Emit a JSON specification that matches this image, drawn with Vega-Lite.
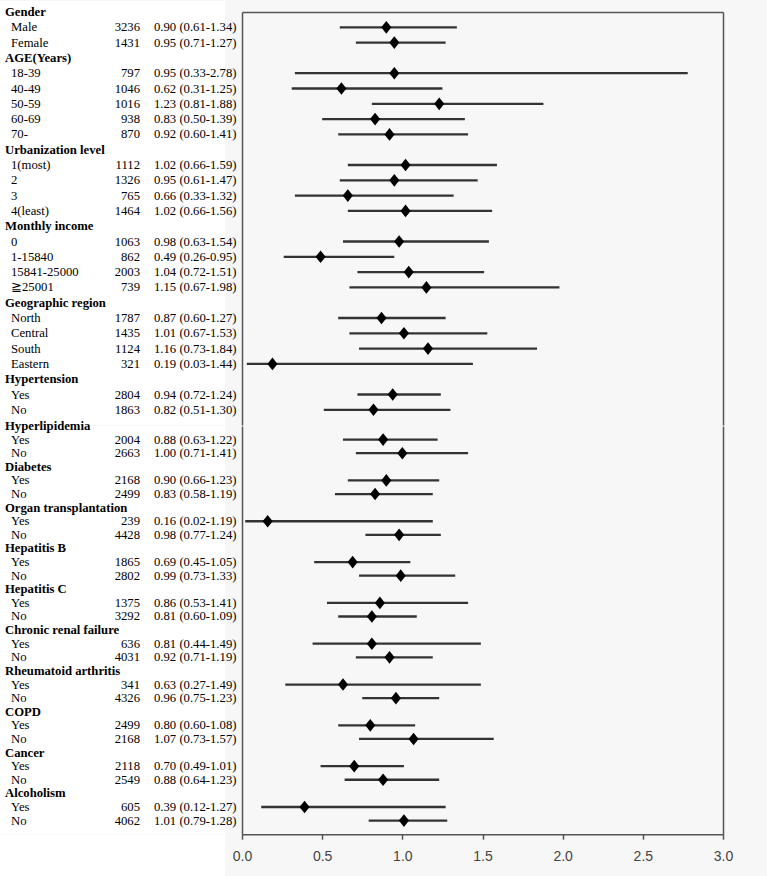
{
  "$schema": "https://vega.github.io/schema/vega-lite/v6.json",
  "background": "#f7f7f7",
  "padding": 0,
  "bounds": "flush",
  "align": "each",
  "columns": 2,
  "spacing": 0,
  "config": {"view": {"stroke": null}},
  "datasets": {
    "upper": [
      {"key": "Gender", "label": "Gender", "level": "header"},
      {"key": "Gender/Male", "label": "Male", "level": "item", "n": 3236, "ci": "0.90 (0.61-1.34)", "or": 0.90, "lo": 0.61, "hi": 1.34},
      {"key": "Gender/Female", "label": "Female", "level": "item", "n": 1431, "ci": "0.95 (0.71-1.27)", "or": 0.95, "lo": 0.71, "hi": 1.27},
      {"key": "AGE(Years)", "label": "AGE(Years)", "level": "header"},
      {"key": "Age/18-39", "label": "18-39", "level": "item", "n": 797, "ci": "0.95 (0.33-2.78)", "or": 0.95, "lo": 0.33, "hi": 2.78},
      {"key": "Age/40-49", "label": "40-49", "level": "item", "n": 1046, "ci": "0.62 (0.31-1.25)", "or": 0.62, "lo": 0.31, "hi": 1.25},
      {"key": "Age/50-59", "label": "50-59", "level": "item", "n": 1016, "ci": "1.23 (0.81-1.88)", "or": 1.23, "lo": 0.81, "hi": 1.88},
      {"key": "Age/60-69", "label": "60-69", "level": "item", "n": 938, "ci": "0.83 (0.50-1.39)", "or": 0.83, "lo": 0.50, "hi": 1.39},
      {"key": "Age/70-", "label": "70-", "level": "item", "n": 870, "ci": "0.92 (0.60-1.41)", "or": 0.92, "lo": 0.60, "hi": 1.41},
      {"key": "Urbanization level", "label": "Urbanization level", "level": "header"},
      {"key": "Urban/1", "label": "1(most)", "level": "item", "n": 1112, "ci": "1.02 (0.66-1.59)", "or": 1.02, "lo": 0.66, "hi": 1.59},
      {"key": "Urban/2", "label": "2", "level": "item", "n": 1326, "ci": "0.95 (0.61-1.47)", "or": 0.95, "lo": 0.61, "hi": 1.47},
      {"key": "Urban/3", "label": "3", "level": "item", "n": 765, "ci": "0.66 (0.33-1.32)", "or": 0.66, "lo": 0.33, "hi": 1.32},
      {"key": "Urban/4", "label": "4(least)", "level": "item", "n": 1464, "ci": "1.02 (0.66-1.56)", "or": 1.02, "lo": 0.66, "hi": 1.56},
      {"key": "Monthly income", "label": "Monthly income", "level": "header"},
      {"key": "Income/0", "label": "0", "level": "item", "n": 1063, "ci": "0.98 (0.63-1.54)", "or": 0.98, "lo": 0.63, "hi": 1.54},
      {"key": "Income/1-15840", "label": "1-15840", "level": "item", "n": 862, "ci": "0.49 (0.26-0.95)", "or": 0.49, "lo": 0.26, "hi": 0.95},
      {"key": "Income/15841-25000", "label": "15841-25000", "level": "item", "n": 2003, "ci": "1.04 (0.72-1.51)", "or": 1.04, "lo": 0.72, "hi": 1.51},
      {"key": "Income/25001", "label": "≧25001", "level": "item", "n": 739, "ci": "1.15 (0.67-1.98)", "or": 1.15, "lo": 0.67, "hi": 1.98},
      {"key": "Geographic region", "label": "Geographic region", "level": "header"},
      {"key": "Region/North", "label": "North", "level": "item", "n": 1787, "ci": "0.87 (0.60-1.27)", "or": 0.87, "lo": 0.60, "hi": 1.27},
      {"key": "Region/Central", "label": "Central", "level": "item", "n": 1435, "ci": "1.01 (0.67-1.53)", "or": 1.01, "lo": 0.67, "hi": 1.53},
      {"key": "Region/South", "label": "South", "level": "item", "n": 1124, "ci": "1.16 (0.73-1.84)", "or": 1.16, "lo": 0.73, "hi": 1.84},
      {"key": "Region/Eastern", "label": "Eastern", "level": "item", "n": 321, "ci": "0.19 (0.03-1.44)", "or": 0.19, "lo": 0.03, "hi": 1.44},
      {"key": "Hypertension", "label": "Hypertension", "level": "header"},
      {"key": "Hypertension/Yes", "label": "Yes", "level": "item", "n": 2804, "ci": "0.94 (0.72-1.24)", "or": 0.94, "lo": 0.72, "hi": 1.24},
      {"key": "Hypertension/No", "label": "No", "level": "item", "n": 1863, "ci": "0.82 (0.51-1.30)", "or": 0.82, "lo": 0.51, "hi": 1.30}
    ],
    "lower": [
      {"key": "Hyperlipidemia", "label": "Hyperlipidemia", "level": "header"},
      {"key": "Hyperlipidemia/Yes", "label": "Yes", "level": "item", "n": 2004, "ci": "0.88 (0.63-1.22)", "or": 0.88, "lo": 0.63, "hi": 1.22},
      {"key": "Hyperlipidemia/No", "label": "No", "level": "item", "n": 2663, "ci": "1.00 (0.71-1.41)", "or": 1.00, "lo": 0.71, "hi": 1.41},
      {"key": "Diabetes", "label": "Diabetes", "level": "header"},
      {"key": "Diabetes/Yes", "label": "Yes", "level": "item", "n": 2168, "ci": "0.90 (0.66-1.23)", "or": 0.90, "lo": 0.66, "hi": 1.23},
      {"key": "Diabetes/No", "label": "No", "level": "item", "n": 2499, "ci": "0.83 (0.58-1.19)", "or": 0.83, "lo": 0.58, "hi": 1.19},
      {"key": "Organ transplantation", "label": "Organ transplantation", "level": "header"},
      {"key": "Organ/Yes", "label": "Yes", "level": "item", "n": 239, "ci": "0.16 (0.02-1.19)", "or": 0.16, "lo": 0.02, "hi": 1.19},
      {"key": "Organ/No", "label": "No", "level": "item", "n": 4428, "ci": "0.98 (0.77-1.24)", "or": 0.98, "lo": 0.77, "hi": 1.24},
      {"key": "Hepatitis B", "label": "Hepatitis B", "level": "header"},
      {"key": "HepB/Yes", "label": "Yes", "level": "item", "n": 1865, "ci": "0.69 (0.45-1.05)", "or": 0.69, "lo": 0.45, "hi": 1.05},
      {"key": "HepB/No", "label": "No", "level": "item", "n": 2802, "ci": "0.99 (0.73-1.33)", "or": 0.99, "lo": 0.73, "hi": 1.33},
      {"key": "Hepatitis C", "label": "Hepatitis C", "level": "header"},
      {"key": "HepC/Yes", "label": "Yes", "level": "item", "n": 1375, "ci": "0.86 (0.53-1.41)", "or": 0.86, "lo": 0.53, "hi": 1.41},
      {"key": "HepC/No", "label": "No", "level": "item", "n": 3292, "ci": "0.81 (0.60-1.09)", "or": 0.81, "lo": 0.60, "hi": 1.09},
      {"key": "Chronic renal failure", "label": "Chronic renal failure", "level": "header"},
      {"key": "CRF/Yes", "label": "Yes", "level": "item", "n": 636, "ci": "0.81 (0.44-1.49)", "or": 0.81, "lo": 0.44, "hi": 1.49},
      {"key": "CRF/No", "label": "No", "level": "item", "n": 4031, "ci": "0.92 (0.71-1.19)", "or": 0.92, "lo": 0.71, "hi": 1.19},
      {"key": "Rheumatoid arthritis", "label": "Rheumatoid arthritis", "level": "header"},
      {"key": "RA/Yes", "label": "Yes", "level": "item", "n": 341, "ci": "0.63 (0.27-1.49)", "or": 0.63, "lo": 0.27, "hi": 1.49},
      {"key": "RA/No", "label": "No", "level": "item", "n": 4326, "ci": "0.96 (0.75-1.23)", "or": 0.96, "lo": 0.75, "hi": 1.23},
      {"key": "COPD", "label": "COPD", "level": "header"},
      {"key": "COPD/Yes", "label": "Yes", "level": "item", "n": 2499, "ci": "0.80 (0.60-1.08)", "or": 0.80, "lo": 0.60, "hi": 1.08},
      {"key": "COPD/No", "label": "No", "level": "item", "n": 2168, "ci": "1.07 (0.73-1.57)", "or": 1.07, "lo": 0.73, "hi": 1.57},
      {"key": "Cancer", "label": "Cancer", "level": "header"},
      {"key": "Cancer/Yes", "label": "Yes", "level": "item", "n": 2118, "ci": "0.70 (0.49-1.01)", "or": 0.70, "lo": 0.49, "hi": 1.01},
      {"key": "Cancer/No", "label": "No", "level": "item", "n": 2549, "ci": "0.88 (0.64-1.23)", "or": 0.88, "lo": 0.64, "hi": 1.23},
      {"key": "Alcoholism", "label": "Alcoholism", "level": "header"},
      {"key": "Alcoholism/Yes", "label": "Yes", "level": "item", "n": 605, "ci": "0.39 (0.12-1.27)", "or": 0.39, "lo": 0.12, "hi": 1.27},
      {"key": "Alcoholism/No", "label": "No", "level": "item", "n": 4062, "ci": "1.01 (0.79-1.28)", "or": 1.01, "lo": 0.79, "hi": 1.28}
    ]
  },
  "concat": [
    {
      "width": 225, "height": 10.7,
      "view": {"fill": "white", "stroke": null},
      "data": {"values": [{}]},
      "mark": "text",
      "encoding": {"text": {"value": ""}}
    },
    {
      "width": 542, "height": 10.7,
      "data": {"values": [{}]},
      "mark": "text",
      "encoding": {"text": {"value": ""}}
    },
    {
      "width": 225, "height": 413.1,
      "view": {"fill": "white", "stroke": null},
      "data": {"name": "upper"},
      "encoding": {
        "y": {"field": "key", "type": "nominal", "axis": null,
          "scale": {"type": "point", "padding": 0.5, "align": 0, "domain": ["Gender", "Gender/Male", "Gender/Female", "AGE(Years)", "Age/18-39", "Age/40-49", "Age/50-59", "Age/60-69", "Age/70-", "Urbanization level", "Urban/1", "Urban/2", "Urban/3", "Urban/4", "Monthly income", "Income/0", "Income/1-15840", "Income/15841-25000", "Income/25001", "Geographic region", "Region/North", "Region/Central", "Region/South", "Region/Eastern", "Hypertension", "Hypertension/Yes", "Hypertension/No"]}}
      },
      "layer": [
        {"mark": {"type": "text", "align": "left", "baseline": "middle", "font": "Liberation Serif", "fontSize": 12.7, "fontWeight": "bold", "color": "black"},
         "encoding": {"x": {"value": 5}, "text": {"condition": {"test": "datum.level === 'header'", "field": "label", "type": "nominal"}, "value": ""}}},
        {"mark": {"type": "text", "align": "left", "baseline": "middle", "font": "Liberation Serif", "fontSize": 12.7, "color": "black"},
         "encoding": {"x": {"value": 11}, "text": {"condition": {"test": "datum.level === 'item'", "field": "label", "type": "nominal"}, "value": ""}}},
        {"mark": {"type": "text", "align": "right", "baseline": "middle", "font": "Liberation Serif", "fontSize": 12.7, "color": "black"},
         "encoding": {"x": {"value": 140}, "text": {"condition": {"test": "datum.level === 'item'", "field": "n", "type": "nominal"}, "value": ""}}},
        {"mark": {"type": "text", "align": "left", "baseline": "middle", "font": "Liberation Serif", "fontSize": 12.7, "color": "black"},
         "encoding": {"x": {"value": 154}, "text": {"condition": {"test": "datum.level === 'item'", "field": "ci", "type": "nominal"}, "value": ""}}}
      ]
    },
    {
      "width": 542, "height": 413.1,
      "data": {"name": "upper"},
      "encoding": {
        "y": {"field": "key", "type": "nominal", "axis": null,
          "scale": {"type": "point", "padding": 0.5, "align": 0, "domain": ["Gender", "Gender/Male", "Gender/Female", "AGE(Years)", "Age/18-39", "Age/40-49", "Age/50-59", "Age/60-69", "Age/70-", "Urbanization level", "Urban/1", "Urban/2", "Urban/3", "Urban/4", "Monthly income", "Income/0", "Income/1-15840", "Income/15841-25000", "Income/25001", "Geographic region", "Region/North", "Region/Central", "Region/South", "Region/Eastern", "Hypertension", "Hypertension/Yes", "Hypertension/No"]}}
      },
      "layer": [
        {"mark": {"type": "rule", "color": "#333333", "strokeWidth": 2.3},
         "encoding": {
           "x": {"field": "lo", "type": "quantitative", "scale": {"domain": [0, 3], "range": [17, 498], "nice": false, "zero": false},
             "axis": {"orient": "top", "values": [0, 3], "title": null, "labels": false, "ticks": false, "domain": true, "domainColor": "#555555", "domainWidth": 1.5, "grid": true, "gridColor": "#555555", "gridWidth": 1.5, "gridOpacity": 1}},
           "x2": {"field": "hi"}
         }},
        {"mark": {"type": "point", "shape": "M0,-1L0.8,0L0,1L-0.8,0Z", "filled": true, "color": "black", "opacity": 1, "size": 160},
         "encoding": {
           "x": {"field": "or", "type": "quantitative",
             "axis": {"orient": "top", "values": [0, 3], "title": null, "labels": false, "ticks": false, "domain": true, "domainColor": "#555555", "domainWidth": 1.5, "grid": true, "gridColor": "#555555", "gridWidth": 1.5, "gridOpacity": 1}}
         }}
      ]
    },
    {
      "width": 225, "height": 408.2,
      "view": {"fill": "white", "stroke": null},
      "data": {"name": "lower"},
      "encoding": {
        "y": {"field": "key", "type": "nominal", "axis": null,
          "scale": {"type": "point", "padding": 0.5, "align": 0, "domain": ["Hyperlipidemia", "Hyperlipidemia/Yes", "Hyperlipidemia/No", "Diabetes", "Diabetes/Yes", "Diabetes/No", "Organ transplantation", "Organ/Yes", "Organ/No", "Hepatitis B", "HepB/Yes", "HepB/No", "Hepatitis C", "HepC/Yes", "HepC/No", "Chronic renal failure", "CRF/Yes", "CRF/No", "Rheumatoid arthritis", "RA/Yes", "RA/No", "COPD", "COPD/Yes", "COPD/No", "Cancer", "Cancer/Yes", "Cancer/No", "Alcoholism", "Alcoholism/Yes", "Alcoholism/No"]}}
      },
      "layer": [
        {"mark": {"type": "text", "align": "left", "baseline": "middle", "font": "Liberation Serif", "fontSize": 12.7, "fontWeight": "bold", "color": "black"},
         "encoding": {"x": {"value": 5}, "text": {"condition": {"test": "datum.level === 'header'", "field": "label", "type": "nominal"}, "value": ""}}},
        {"mark": {"type": "text", "align": "left", "baseline": "middle", "font": "Liberation Serif", "fontSize": 12.7, "color": "black"},
         "encoding": {"x": {"value": 11}, "text": {"condition": {"test": "datum.level === 'item'", "field": "label", "type": "nominal"}, "value": ""}}},
        {"mark": {"type": "text", "align": "right", "baseline": "middle", "font": "Liberation Serif", "fontSize": 12.7, "color": "black"},
         "encoding": {"x": {"value": 140}, "text": {"condition": {"test": "datum.level === 'item'", "field": "n", "type": "nominal"}, "value": ""}}},
        {"mark": {"type": "text", "align": "left", "baseline": "middle", "font": "Liberation Serif", "fontSize": 12.7, "color": "black"},
         "encoding": {"x": {"value": 154}, "text": {"condition": {"test": "datum.level === 'item'", "field": "ci", "type": "nominal"}, "value": ""}}}
      ]
    },
    {
      "width": 542, "height": 408.2,
      "data": {"name": "lower"},
      "encoding": {
        "y": {"field": "key", "type": "nominal", "axis": null,
          "scale": {"type": "point", "padding": 0.5, "align": 0, "domain": ["Hyperlipidemia", "Hyperlipidemia/Yes", "Hyperlipidemia/No", "Diabetes", "Diabetes/Yes", "Diabetes/No", "Organ transplantation", "Organ/Yes", "Organ/No", "Hepatitis B", "HepB/Yes", "HepB/No", "Hepatitis C", "HepC/Yes", "HepC/No", "Chronic renal failure", "CRF/Yes", "CRF/No", "Rheumatoid arthritis", "RA/Yes", "RA/No", "COPD", "COPD/Yes", "COPD/No", "Cancer", "Cancer/Yes", "Cancer/No", "Alcoholism", "Alcoholism/Yes", "Alcoholism/No"]}}
      },
      "layer": [
        {"mark": {"type": "rule", "color": "#333333", "strokeWidth": 2.3},
         "encoding": {
           "x": {"field": "lo", "type": "quantitative", "scale": {"domain": [0, 3], "range": [17, 498], "nice": false, "zero": false},
             "axis": {"orient": "bottom", "values": [0, 0.5, 1, 1.5, 2, 2.5, 3], "format": ".1f", "title": null, "domain": true, "domainColor": "#555555", "domainWidth": 1.5, "ticks": true, "tickColor": "#555555", "tickWidth": 1.5, "tickSize": 5, "labelFont": "Liberation Sans", "labelFontSize": 14, "labelColor": "#444444", "labelPadding": 10, "labelFlush": false, "labelOverlap": false, "grid": true, "gridColor": "#555555", "gridWidth": 1.5, "gridOpacity": {"condition": {"test": "datum.value == 0 || datum.value == 3", "value": 1}, "value": 0}}},
           "x2": {"field": "hi"}
         }},
        {"mark": {"type": "point", "shape": "M0,-1L0.8,0L0,1L-0.8,0Z", "filled": true, "color": "black", "opacity": 1, "size": 160},
         "encoding": {
           "x": {"field": "or", "type": "quantitative",
             "axis": {"orient": "bottom", "values": [0, 0.5, 1, 1.5, 2, 2.5, 3], "format": ".1f", "title": null, "domain": true, "domainColor": "#555555", "domainWidth": 1.5, "ticks": true, "tickColor": "#555555", "tickWidth": 1.5, "tickSize": 5, "labelFont": "Liberation Sans", "labelFontSize": 14, "labelColor": "#444444", "labelPadding": 10, "labelFlush": false, "labelOverlap": false, "grid": true, "gridColor": "#555555", "gridWidth": 1.5, "gridOpacity": {"condition": {"test": "datum.value == 0 || datum.value == 3", "value": 1}, "value": 0}}}
         }}
      ]
    },
    {
      "width": 225, "height": 44,
      "view": {"fill": "white", "stroke": null},
      "data": {"values": [{}]},
      "mark": "text",
      "encoding": {"text": {"value": ""}}
    }
  ]
}
